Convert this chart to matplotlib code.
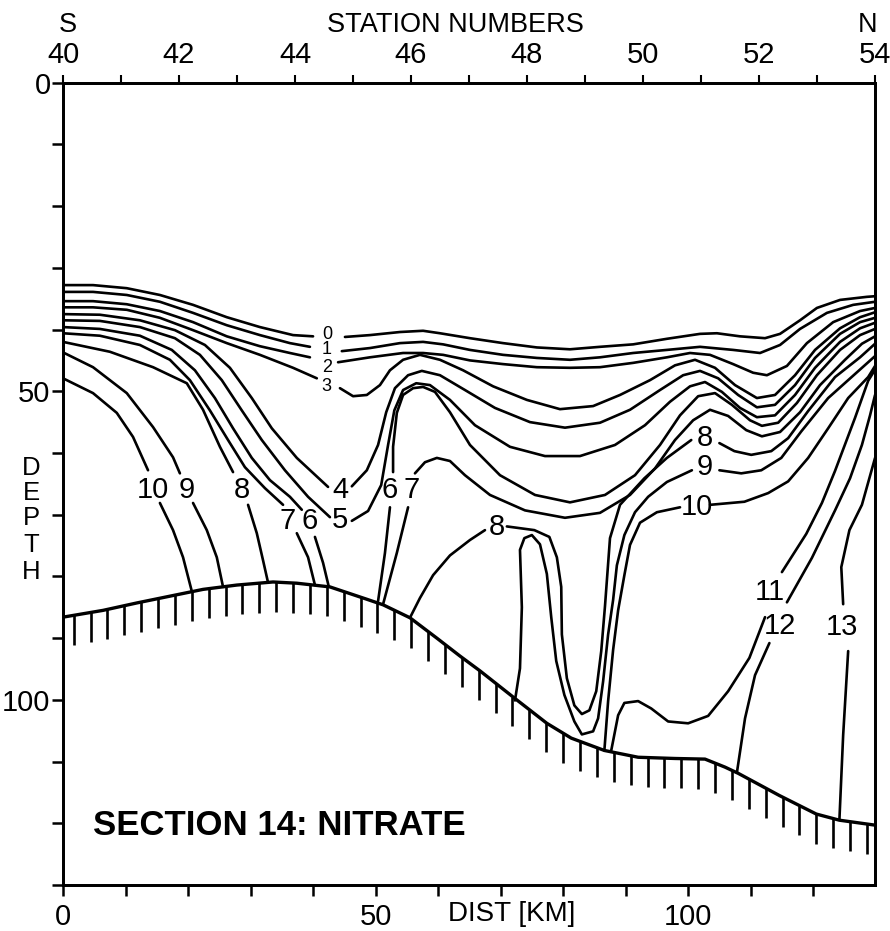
import numpy as np
import matplotlib.pyplot as plt

plt.rcParams['font.family'] = ['Liberation Sans', 'DejaVu Sans']

# sea floor (distance km, depth m)
bottom_km = [0, 6.4, 11.8, 17.1, 22.4, 27.8, 33.6, 37.4, 42.7, 48.6, 51.2, 55.5, 59.8,
             63.5, 66.7, 72.2, 77.4, 81.3, 86.6, 92.0, 97.9, 102.7, 105.9, 108.0,
             114.6, 120.5, 124.2, 129.9]
bottom_m = [86.6, 85.5, 84.3, 83.2, 82.1, 81.4, 80.9, 81.1, 81.7, 83.7, 84.6, 86.7, 90.0,
            92.9, 95.3, 99.7, 103.8, 106.2, 108.2, 109.3, 109.5, 109.6, 110.9, 111.9,
            115.5, 118.5, 119.5, 120.3]

# nitrate isolines, pieces between labels, (km, m)
n0_a = [(0, 32.8), (4.8, 32.8), (10.2, 33.3), (15.5, 34.4), (20.8, 36.0), (26.2, 38.0),
        (31.5, 39.6), (36.8, 40.9), (40.0, 41.1)]
n0_b = [(45.1, 41.2), (49.1, 40.9), (53.9, 40.4), (57.6, 40.2), (60.3, 40.6), (65.1, 41.4),
        (70.4, 42.2), (75.8, 42.9), (81.1, 43.2), (85.9, 42.8), (91.2, 42.4), (96.6, 41.5),
        (101.9, 40.7), (104.6, 40.6), (108.3, 41.1), (112.3, 41.4), (114.7, 40.7),
        (117.9, 38.5), (120.6, 36.5), (124.3, 35.2), (128.6, 34.7), (129.9, 34.6)]
n1_a = [(0, 33.9), (4.8, 33.9), (10.2, 34.4), (15.5, 35.5), (20.8, 37.3), (26.2, 39.3),
        (31.5, 40.9), (36.3, 42.2), (39.5, 42.8)]
n1_b = [(44.6, 43.5), (49.1, 43.0), (53.9, 42.2), (57.6, 42.0), (60.8, 42.4), (65.1, 43.3),
        (70.4, 44.1), (75.8, 44.6), (81.1, 44.9), (85.9, 44.5), (91.2, 43.8), (96.6, 43.3),
        (101.9, 42.8), (107.2, 43.3), (111.5, 43.8), (114.7, 42.5), (117.9, 39.9),
        (122.2, 37.3), (126.4, 36.0), (129.9, 35.5)]
n2_a = [(0, 35.4), (4.8, 35.4), (10.2, 35.9), (15.5, 37.0), (20.8, 38.8), (26.2, 41.1),
        (31.5, 42.7), (36.3, 43.8), (39.5, 44.5)]
n2_b = [(44.0, 45.3), (49.1, 44.5), (54.4, 43.8), (57.6, 43.8), (60.8, 44.1), (65.1, 45.0),
        (70.4, 45.6), (75.8, 46.1), (81.1, 46.2), (85.9, 46.1), (91.2, 45.4), (96.6, 44.5),
        (100.3, 43.8), (103.5, 44.1), (107.2, 45.6), (110.4, 47.0), (112.6, 47.4),
        (115.8, 45.9), (119.0, 42.2), (123.2, 38.8), (127.5, 37.0), (129.9, 36.5)]
n3_a = [(0, 36.4), (4.8, 36.4), (10.2, 36.8), (15.5, 38.1), (20.8, 40.1), (26.2, 42.2),
        (31.5, 44.1), (36.8, 46.2), (40.6, 47.9)]
n3_b = [(44.3, 49.5), (46.4, 50.8), (48.6, 50.6), (50.7, 49.0), (52.3, 46.6), (54.4, 44.9),
        (57.1, 44.1), (60.3, 44.9), (64.0, 46.6), (68.8, 49.2), (74.2, 51.4), (79.5, 52.9),
        (84.8, 52.4), (89.1, 50.6), (93.9, 48.2), (97.9, 45.8), (101.1, 44.9), (104.3, 46.2),
        (107.5, 49.0), (111.0, 51.1), (113.9, 50.6), (117.1, 47.4), (120.3, 43.3),
        (124.3, 39.8), (127.5, 38.0), (129.9, 37.2)]
n4_a = [(0, 37.5), (5.9, 37.6), (12.3, 38.5), (17.9, 40.1), (22.7, 42.5), (26.7, 46.2),
        (30.2, 51.1), (33.4, 56.0), (37.4, 60.8), (42.4, 65.5)]
n4_b = [(46.2, 65.4), (48.6, 62.8), (50.4, 58.7), (51.7, 53.4), (53.1, 49.5), (55.2, 47.4),
        (57.4, 46.7), (60.3, 47.4), (64.3, 49.8), (69.1, 52.7), (74.7, 55.0), (80.3, 55.9),
        (85.9, 55.1), (90.7, 53.0), (95.5, 49.8), (99.2, 47.4), (101.9, 46.7), (104.8, 47.9),
        (108.0, 50.6), (111.0, 52.6), (113.9, 52.2), (117.1, 49.0), (120.3, 44.6),
        (124.3, 40.7), (127.5, 38.8), (129.9, 38.1)]
n5_a = [(0, 38.5), (5.9, 38.6), (12.3, 39.6), (17.9, 41.4), (21.9, 44.1), (25.4, 48.2),
        (28.6, 53.1), (31.8, 57.9), (35.5, 62.8), (39.2, 67.1), (42.7, 70.4)]
n5_b = [(46.2, 71.0), (48.8, 69.4), (50.9, 65.2), (52.0, 58.7), (53.0, 53.1), (54.4, 49.8),
        (56.5, 48.7), (58.7, 49.0), (61.9, 51.4), (65.9, 55.5), (71.5, 59.0), (77.1, 60.5),
        (82.7, 60.5), (88.3, 58.7), (93.1, 55.5), (97.1, 51.7), (100.3, 49.2), (102.7, 48.5),
        (105.4, 50.1), (108.3, 52.7), (111.0, 54.2), (113.9, 53.9), (117.1, 50.6),
        (120.3, 46.2), (124.3, 42.0), (127.5, 39.8), (129.9, 38.9)]
n6_a = [(0, 39.6), (5.9, 39.9), (12.3, 41.0), (17.4, 43.3), (21.1, 46.6), (24.3, 51.1),
        (27.2, 56.0), (30.2, 60.8), (33.1, 64.4), (36.3, 67.1), (38.2, 69.2)]
n6_b = [(40.3, 73.6), (41.6, 77.8), (42.5, 81.6)]
n6_c = [(50.4, 84.0), (51.5, 76.2), (52.3, 68.8)]
n6_d = [(52.8, 63.1), (52.8, 59.0), (53.4, 53.5), (54.4, 50.6), (56.0, 49.5), (57.6, 49.3),
        (59.5, 50.1), (61.9, 53.4), (65.1, 58.7), (69.9, 63.6), (75.5, 66.8), (81.1, 68.0),
        (86.7, 66.8), (91.5, 63.6), (95.5, 58.7), (98.7, 53.9), (101.6, 50.8), (104.3, 50.3),
        (107.0, 52.2), (109.9, 54.7), (111.8, 55.6), (114.4, 55.1), (117.4, 51.9),
        (120.6, 47.4), (124.3, 43.3), (127.5, 40.9), (129.9, 39.9)]
n7_a = [(0, 40.6), (5.9, 41.0), (12.3, 42.5), (17.1, 44.9), (20.3, 48.2), (23.5, 53.1),
        (26.4, 57.9), (29.1, 62.3), (32.3, 65.7), (35.2, 68.4)]
n7_b = [(37.4, 73.0), (39.2, 76.9), (40.3, 81.4)]
n7_c = [(51.2, 84.5), (53.4, 76.2), (55.2, 68.8)]
n7_d = [(56.3, 63.3), (57.9, 61.5), (59.8, 60.8), (61.9, 61.3), (64.3, 63.6), (68.3, 66.8),
        (73.9, 69.3), (80.3, 70.5), (85.9, 69.7), (90.7, 66.8), (94.7, 62.5), (97.9, 57.9),
        (100.8, 54.7), (103.5, 53.0), (106.4, 54.0), (109.3, 56.3), (111.8, 57.3),
        (114.7, 56.6), (117.9, 53.4), (121.1, 49.0), (125.1, 44.9), (127.8, 42.3),
        (129.9, 41.1)]
n8_a = [(0, 42.0), (7.5, 43.6), (14.4, 46.1), (19.8, 48.7), (22.4, 53.0), (25.1, 59.0),
        (27.2, 63.1)]
n8_b = [(29.6, 68.4), (31.0, 73.0), (32.0, 77.4), (32.8, 81.0)]
n8_c = [(55.5, 86.7), (57.1, 83.5), (59.2, 79.8), (61.9, 76.6), (65.1, 74.1), (67.5, 72.5)]
n8_d = [(71.0, 71.9), (75.4, 72.5), (77.8, 73.6), (79.0, 76.9), (79.7, 81.7), (79.8, 89.4),
        (80.6, 96.5), (81.8, 100.9), (83.0, 102.3), (84.2, 101.7), (85.3, 98.6),
        (86.1, 92.1), (86.7, 84.8), (87.5, 73.8), (89.1, 68.4), (93.0, 64.1), (96.6, 60.8),
        (100.5, 57.9)]
n8_e = [(105.0, 58.4), (107.4, 59.7), (110.1, 60.3), (113.3, 59.7), (116.0, 57.6),
        (119.2, 53.2), (123.5, 47.7), (127.5, 44.5), (129.9, 42.3)]
n9_a = [(0, 43.7), (4.8, 46.1), (10.2, 50.3), (14.4, 55.8), (17.6, 60.7), (18.7, 63.3)]
n9_b = [(20.8, 68.1), (23.0, 72.5), (24.6, 76.9), (25.6, 81.7)]
n9_c = [(72.3, 100.1), (73.1, 94.9), (73.4, 85.0), (73.1, 75.7), (73.8, 73.8), (75.0, 73.3),
        (76.3, 74.8), (77.4, 79.6), (78.1, 86.6), (78.9, 93.7), (80.2, 99.2), (81.8, 103.5),
        (83.0, 105.6), (84.8, 105.1), (85.6, 103.0), (86.4, 97.0), (87.2, 89.4),
        (88.0, 83.8), (88.6, 78.2), (89.8, 73.3), (91.5, 69.6), (93.6, 67.1), (96.6, 64.7),
        (100.6, 62.8)]
n9_d = [(105.0, 62.8), (108.5, 63.3), (111.7, 62.8), (114.9, 60.8), (118.1, 56.5),
        (122.4, 51.1), (126.7, 47.2), (129.9, 44.3)]
n10_a = [(0, 47.9), (4.8, 50.3), (8.6, 53.5), (11.2, 57.4), (13.6, 62.8)]
n10_b = [(15.5, 68.1), (17.6, 72.5), (19.2, 76.9), (20.6, 82.4)]
n10_c = [(86.6, 108.2), (87.2, 100.2), (88.0, 91.9), (88.8, 85.5), (89.8, 79.8),
         (90.7, 74.9), (92.3, 71.3), (95.0, 69.6), (98.7, 68.8)]
n10_d = [(103.5, 68.4), (109.0, 67.9), (112.8, 66.5), (116.0, 64.6), (119.2, 60.8),
         (122.4, 56.0), (125.6, 51.1), (128.8, 47.7), (129.9, 45.9)]
n11_a = [(87.7, 108.2), (88.8, 102.5), (89.8, 100.5), (92.0, 100.2), (94.1, 101.4),
         (96.8, 103.5), (100.0, 103.8), (103.2, 102.6), (106.4, 98.6), (109.8, 93.2),
         (112.3, 86.6)]
n11_b = [(115.0, 79.3), (118.9, 73.1), (121.4, 68.1), (123.5, 62.9), (126.7, 54.3),
         (128.8, 48.3), (129.9, 46.5)]
n12_a = [(107.8, 111.8), (109.1, 103.0), (110.7, 96.0), (113.0, 90.8)]
n12_b = [(115.8, 84.2), (119.8, 77.0), (123.5, 69.3), (125.9, 64.1), (127.8, 58.7),
         (129.1, 53.9), (129.9, 50.6)]
n13_a = [(124.2, 119.4), (124.8, 105.7), (125.6, 92.1)]
n13_b = [(124.8, 84.5), (124.5, 78.5), (125.8, 72.5), (127.8, 68.4), (129.9, 60.8)]

isolines = [n0_a, n0_b, n1_a, n1_b, n2_a, n2_b, n3_a, n3_b, n4_a, n4_b, n5_a, n5_b,
            n6_a, n6_b, n6_c, n6_d, n7_a, n7_b, n7_c, n7_d, n8_a, n8_b, n8_c, n8_d, n8_e,
            n9_a, n9_b, n9_c, n9_d, n10_a, n10_b, n10_c, n10_d, n11_a, n11_b,
            n12_a, n12_b, n13_a, n13_b]

# isoline labels (text, km, m)
small_labels = [('0', 42.2, 40.8), ('1', 42.2, 43.3), ('2', 42.2, 46.1), ('3', 42.2, 49.2)]
big_labels = [('4', 44.3, 66.0), ('5', 44.3, 70.9), ('10', 14.4, 66.0), ('9', 19.8, 66.0),
              ('8', 28.6, 66.0), ('7', 36.0, 71.0), ('6', 39.5, 71.0), ('6', 52.3, 66.0),
              ('7', 55.7, 66.0), ('8', 69.4, 72.0), ('8', 102.7, 57.6), ('9', 102.7, 62.3),
              ('10', 101.4, 68.8), ('11', 113.1, 82.6), ('12', 114.7, 88.0),
              ('13', 124.6, 88.2)]

stations = list(range(40, 55))
depth_ticks = list(range(0, 131, 10))
dist_ticks = list(range(0, 130, 10))

fig = plt.figure(figsize=(8.9, 9.31), dpi=100)
ax = fig.add_axes([0.0708, 0.0494, 0.9124, 0.8618])
ax.set_xlim(0, 129.9)
ax.set_ylim(130, 0)

for seg in isolines:
    a = np.array(seg)
    ax.plot(a[:, 0], a[:, 1], color='black', lw=1.9,
            solid_capstyle='round', solid_joinstyle='round')

ax.plot(bottom_km, bottom_m, color='black', lw=2.4, solid_joinstyle='round')
hx = np.arange(1.7, 129.5, 2.7)
hy = np.interp(hx, bottom_km, bottom_m)
ax.vlines(hx, hy, hy + 4.8, color='black', lw=1.9)

for t, x, y in small_labels:
    ax.text(x, y, t, fontsize=13, ha='center', va='center')
for t, x, y in big_labels:
    ax.text(x, y, t, fontsize=21, ha='center', va='center')

ax.text(4.8, 120.3, 'SECTION 14: NITRATE', fontsize=25, fontweight='bold',
        ha='left', va='center')

ax.set_yticks(depth_ticks)
ax.set_yticklabels([str(v) if v in (0, 50, 100) else '' for v in depth_ticks])
ax.set_xticks(dist_ticks)
ax.set_xticklabels([str(v) if v in (0, 50, 100) else '' for v in dist_ticks])
ax.tick_params(axis='y', direction='out', length=8, width=1.8, labelsize=21, pad=1)
ax.tick_params(axis='x', direction='out', length=8, width=1.8, labelsize=21, pad=5)
for s in ax.spines.values():
    s.set_linewidth(2)

ax2 = ax.twiny()
ax2.set_xlim(40, 54)
ax2.set_xticks(stations)
ax2.set_xticklabels([str(s) if s % 2 == 0 else '' for s in stations])
ax2.tick_params(axis='x', direction='out', length=6, width=1.5, labelsize=21, pad=3.5)
for s in ax2.spines.values():
    s.set_linewidth(2)

fig.text(455 / 890, 1 - 25 / 931, 'STATION NUMBERS', fontsize=19.5, ha='center', va='center')
fig.text(68 / 890, 1 - 25 / 931, 'S', fontsize=19.5, ha='center', va='center')
fig.text(868 / 890, 1 - 25 / 931, 'N', fontsize=19.5, ha='center', va='center')
fig.text(512 / 890, 1 - 914 / 931, 'DIST [KM]', fontsize=20, ha='center', va='center')
for ch, py in zip('DEPTH', [468, 493, 518, 545, 572]):
    fig.text(31 / 890, 1 - py / 931, ch, fontsize=18.5, ha='center', va='center')

fig.savefig('out.png', dpi=100)
